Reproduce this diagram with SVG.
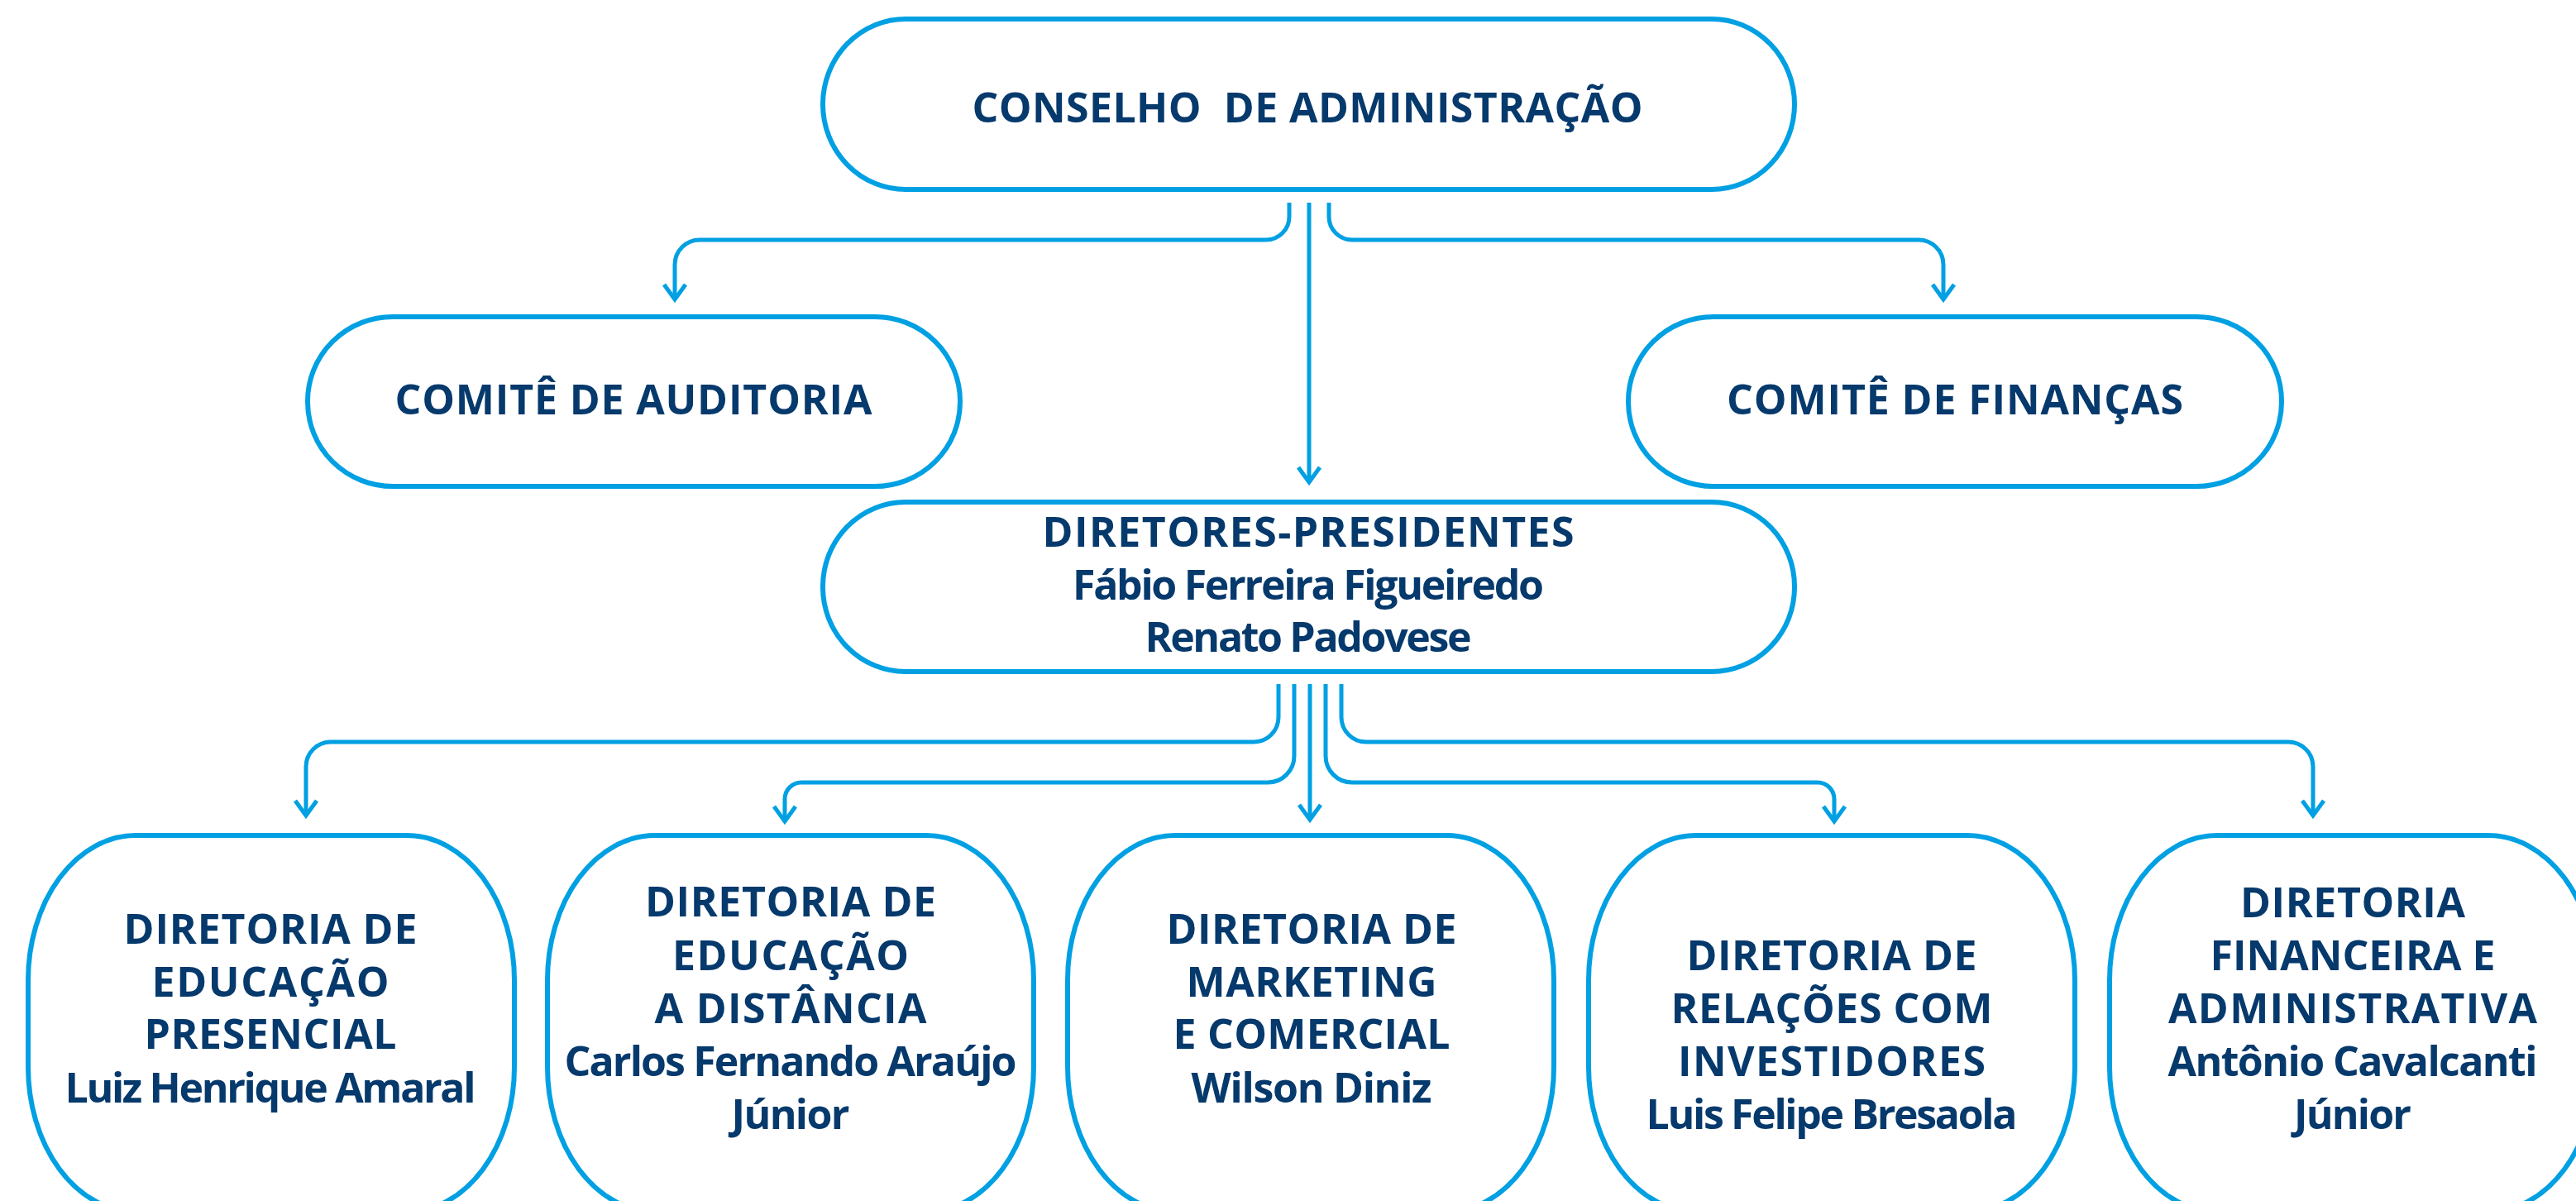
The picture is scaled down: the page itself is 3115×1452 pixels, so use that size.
<svg xmlns="http://www.w3.org/2000/svg" width="3115" height="1452" viewBox="0 0 3115 1452">
<style>
.box{fill:#ffffff;stroke:#00a0e3;stroke-width:6}
.t{font-family:"Open Sans","Liberation Sans",sans-serif;font-weight:700;font-size:50px;fill:#06396c;text-anchor:middle}
.c{fill:none;stroke:#00a0e3;stroke-width:5}
</style>
<defs>
<marker id="arr" markerUnits="userSpaceOnUse" markerWidth="40" markerHeight="40" viewBox="0 0 40 40" refX="20" refY="20" orient="auto">
<path d="M2,7 L20,20 L2,33" fill="none" stroke="#00a0e3" stroke-width="5"/>
</marker>
</defs>
<rect width="3115" height="1452" fill="#ffffff"/>
<g id="connectors">
<path class="c" d="M1559,245 V262 A28,28 0 0 1 1531,290 H846 A30,30 0 0 0 816,320 V362" marker-end="url(#arr)"/>
<path class="c" d="M1583,245 V583" marker-end="url(#arr)"/>
<path class="c" d="M1607,245 V262 A28,28 0 0 0 1635,290 H2320 A30,30 0 0 1 2350,320 V362" marker-end="url(#arr)"/>
<path class="c" d="M1546,827 V867 A30,30 0 0 1 1516,897 H400 A30,30 0 0 0 370,927 V986" marker-end="url(#arr)"/>
<path class="c" d="M1565,827 V914 A32,32 0 0 1 1533,946 H969 A20,20 0 0 0 949,966 V993" marker-end="url(#arr)"/>
<path class="c" d="M1584,827 V991" marker-end="url(#arr)"/>
<path class="c" d="M1603,827 V914 A32,32 0 0 0 1635,946 H2198 A20,20 0 0 1 2218,966 V993" marker-end="url(#arr)"/>
<path class="c" d="M1622,827 V867 A30,30 0 0 0 1652,897 H2767 A30,30 0 0 1 2797,927 V986" marker-end="url(#arr)"/>
</g>
<g id="conselho">
<rect class="box" x="995" y="23" width="1175" height="206" rx="100" ry="103"/>
<text class="t" x="1581" y="148" textLength="811" lengthAdjust="spacing" style="white-space:pre">CONSELHO  DE ADMINISTRAÇÃO</text>
</g>
<g id="comite-auditoria">
<rect class="box" x="372" y="383" width="789" height="205" rx="103" ry="102"/>
<text class="t" x="766" y="501" textLength="577" lengthAdjust="spacing">COMITÊ DE AUDITORIA</text>
</g>
<g id="comite-financas">
<rect class="box" x="1969" y="383" width="790" height="205" rx="103" ry="102"/>
<text class="t" x="2364" y="501" textLength="552" lengthAdjust="spacing">COMITÊ DE FINANÇAS</text>
</g>
<g id="diretores-presidentes">
<rect class="box" x="995" y="607" width="1175" height="205" rx="100" ry="102"/>
<text class="t" x="1582" y="661" textLength="643" lengthAdjust="spacing">DIRETORES-PRESIDENTES</text>
<text class="t" x="1582" y="725" textLength="570" lengthAdjust="spacing">Fábio Ferreira Figueiredo</text>
<text class="t" x="1582" y="788" textLength="395" lengthAdjust="spacing">Renato Padovese</text>
</g>
<g id="dir-presencial">
<rect class="box" x="34" y="1010" width="588" height="455" rx="130" ry="175"/>
<text class="t" x="327" y="1141" textLength="355" lengthAdjust="spacing">DIRETORIA DE</text>
<text class="t" x="327" y="1205" textLength="287" lengthAdjust="spacing">EDUCAÇÃO</text>
<text class="t" x="327" y="1268" textLength="305" lengthAdjust="spacing">PRESENCIAL</text>
<text class="t" x="327" y="1333" textLength="497" lengthAdjust="spacing">Luiz Henrique Amaral</text>
</g>
<g id="dir-distancia">
<rect class="box" x="662" y="1010" width="588" height="455" rx="130" ry="175"/>
<text class="t" x="956" y="1108" textLength="352" lengthAdjust="spacing">DIRETORIA DE</text>
<text class="t" x="956" y="1173" textLength="286" lengthAdjust="spacing">EDUCAÇÃO</text>
<text class="t" x="956" y="1237" textLength="329" lengthAdjust="spacing">A DISTÂNCIA</text>
<text class="t" x="956" y="1301" textLength="547" lengthAdjust="spacing">Carlos Fernando Araújo</text>
<text class="t" x="956" y="1365" textLength="143" lengthAdjust="spacing">Júnior</text>
</g>
<g id="dir-marketing">
<rect class="box" x="1291" y="1010" width="588" height="455" rx="130" ry="175"/>
<text class="t" x="1586" y="1141" textLength="351" lengthAdjust="spacing">DIRETORIA DE</text>
<text class="t" x="1586" y="1205" textLength="303" lengthAdjust="spacing">MARKETING</text>
<text class="t" x="1586" y="1268" textLength="335" lengthAdjust="spacing">E COMERCIAL</text>
<text class="t" x="1586" y="1333" textLength="291" lengthAdjust="spacing">Wilson Diniz</text>
</g>
<g id="dir-ri">
<rect class="box" x="1921" y="1010" width="588" height="455" rx="130" ry="175"/>
<text class="t" x="2215" y="1173" textLength="351" lengthAdjust="spacing">DIRETORIA DE</text>
<text class="t" x="2215" y="1237" textLength="389" lengthAdjust="spacing">RELAÇÕES COM</text>
<text class="t" x="2215" y="1301" textLength="372" lengthAdjust="spacing">INVESTIDORES</text>
<text class="t" x="2215" y="1365" textLength="449" lengthAdjust="spacing">Luis Felipe Bresaola</text>
</g>
<g id="dir-financeira">
<rect class="box" x="2551" y="1010" width="588" height="455" rx="130" ry="175"/>
<text class="t" x="2845" y="1109" textLength="272" lengthAdjust="spacing">DIRETORIA</text>
<text class="t" x="2845" y="1173" textLength="345" lengthAdjust="spacing">FINANCEIRA E</text>
<text class="t" x="2845" y="1237" textLength="446" lengthAdjust="spacing">ADMINISTRATIVA</text>
<text class="t" x="2845" y="1301" textLength="447" lengthAdjust="spacing">Antônio Cavalcanti</text>
<text class="t" x="2845" y="1365" textLength="142" lengthAdjust="spacing">Júnior</text>
</g>
</svg>
